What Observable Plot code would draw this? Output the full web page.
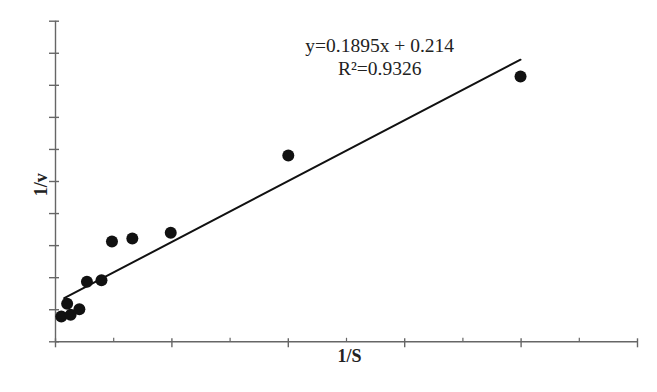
<!DOCTYPE html>
<html>
<head>
<meta charset="utf-8">
<script src="https://cdn.jsdelivr.net/npm/d3@7"></script>
<script src="https://cdn.jsdelivr.net/npm/@observablehq/plot@0.6"></script>
<style>
  html, body { margin: 0; padding: 0; background: #fff; }
  svg { display: block; }
</style>
</head>
<body>
<div id="chart"></div>
<script>
// Data
const invS = [0.10, 0.26, 0.20, 0.41, 0.54, 0.79, 0.97, 1.32, 1.98, 4.0, 7.99];
const invV = [0.158, 0.168, 0.237, 0.203, 0.374, 0.384, 0.626, 0.644, 0.680, 1.162, 1.655];

// Drawn trend line ends
const trendX = [0.15, 7.99];
const trendY = [0.272, 1.760];

// Axis ticks (no labels shown)
const xMajorTicks = [0, 2, 4, 6, 8, 10];
const xMinorTicks = [1, 3, 5, 7, 9];
const yTicks = [0, 0.2, 0.4, 0.6, 0.8, 1.0, 1.2, 1.4, 1.6, 1.8, 2.0];

// Texts
const equationText = ["y=0.1895x + 0.214"];
const r2Text = ["R\u00b2=0.9326"];
const equationPos = {x: 5.57, y1: 1.807, y2: 1.666};
const xLabel = ["1/S"];
const xLabelPos = 5.05;
const yLabel = ["1/v"];
const yLabelPos = 0.98;

const points = invS.map((x, i) => ({x, y: invV[i]}));
const trend = trendX.map((x, i) => ({x, y: trendY[i]}));

const axisColor = "#666";
const font = "Liberation Serif, Times New Roman, serif";

const chart = Plot.plot({
  width: 657,
  height: 392,
  marginLeft: 55,
  marginRight: 20,
  marginTop: 20.7,
  marginBottom: 50.7,
  style: {fontFamily: font, background: "#fff"},
  x: {domain: [0, 10], axis: null},
  y: {domain: [0, 2], axis: null},
  marks: [
    // axis lines
    Plot.ruleX([0], {stroke: axisColor, strokeWidth: 1.4}),
    Plot.ruleY([0], {stroke: axisColor, strokeWidth: 1.4}),
    // y ticks crossing the axis
    Plot.ruleY(yTicks, {y: d => d, x1: 0, x2: 0, insetLeft: -6, insetRight: -4, stroke: axisColor, strokeWidth: 1.4}),
    // x major ticks crossing the axis
    Plot.ruleX(xMajorTicks, {x: d => d, y1: 0, y2: 0, insetTop: -3, insetBottom: -6, stroke: axisColor, strokeWidth: 1.4}),
    // x minor ticks pointing up
    Plot.ruleX(xMinorTicks, {x: d => d, y1: 0, y2: 0, insetTop: -3.5, insetBottom: 0, stroke: axisColor, strokeWidth: 1.2}),
    // trend line
    Plot.line(trend, {x: "x", y: "y", stroke: "#111", strokeWidth: 2}),
    // points
    Plot.dot(points, {x: "x", y: "y", r: 6, fill: "#111", stroke: "none"}),
    // equation
    Plot.text(equationText, {x: equationPos.x, y: equationPos.y1, text: d => d, fontSize: 19.5, fill: "#222", textAnchor: "middle", lineAnchor: "bottom"}),
    Plot.text(r2Text, {x: equationPos.x, y: equationPos.y2, text: d => d, fontSize: 19.5, fill: "#222", textAnchor: "middle", lineAnchor: "bottom"}),
    // axis labels
    Plot.text(xLabel, {x: xLabelPos, frameAnchor: "bottom", dy: 20, text: d => d, fontSize: 18, fontWeight: "bold", fill: "#222", textAnchor: "middle", lineAnchor: "bottom"}),
    Plot.text(yLabel, {y: yLabelPos, frameAnchor: "left", dx: -8.5, rotate: -90, text: d => d, fontSize: 18, fontWeight: "bold", fill: "#222", textAnchor: "middle", lineAnchor: "bottom"})
  ]
});

document.getElementById("chart").appendChild(chart);
</script>
</body>
</html>
